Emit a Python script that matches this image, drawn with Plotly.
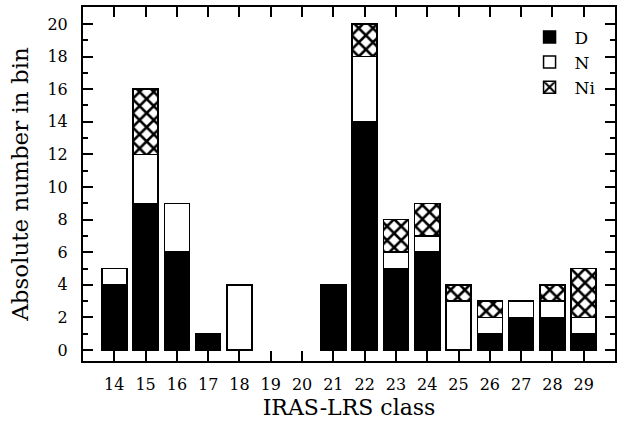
import plotly.graph_objects as go

classes = [14, 15, 16, 17, 18, 19, 20, 21, 22, 23, 24, 25, 26, 27, 28, 29]
d_counts = [4, 9, 6, 1, 0, 0, 0, 4, 14, 5, 6, 0, 1, 2, 2, 1]
n_counts = [1, 3, 3, 0, 4, 0, 0, 0, 4, 1, 1, 3, 1, 1, 1, 1]
ni_counts = [0, 4, 0, 0, 0, 0, 0, 0, 2, 2, 2, 1, 1, 0, 1, 3]
y_ticks = [0, 2, 4, 6, 8, 10, 12, 14, 16, 18, 20]

FONT = "DejaVu Serif"

def nz(vals):
    return [v if v else None for v in vals]

fig = go.Figure()
fig.add_trace(go.Bar(x=classes, y=nz(d_counts), name="D",
                     marker=dict(color="black", line=dict(color="black", width=1.5))))
fig.add_trace(go.Bar(x=classes, y=nz(n_counts), name="N",
                     marker=dict(color="white", line=dict(color="black", width=1.5))))
fig.add_trace(go.Bar(x=classes, y=nz(ni_counts), name="Ni",
                     marker=dict(color="white", line=dict(color="black", width=1.5),
                                 pattern=dict(shape="x", size=10, solidity=0.45,
                                              fgcolor="black", bgcolor="white",
                                              fgopacity=1, fillmode="replace"))))

fig.update_layout(
    barmode="stack",
    bargap=0.2,
    width=621, height=428,
    margin=dict(l=83, r=6, t=7, b=67),
    paper_bgcolor="white", plot_bgcolor="white",
    font=dict(family=FONT, color="black", size=14),
    showlegend=True,
    legend=dict(x=0.83, y=0.965, xanchor="left", yanchor="top", traceorder="normal",
                bgcolor="rgba(0,0,0,0)", font=dict(size=17, family=FONT),
                tracegroupgap=0, itemwidth=40),
    xaxis=dict(range=[13, 30], tickvals=classes, ticktext=[str(c) for c in classes],
               showline=True, linewidth=2, linecolor="black", mirror="ticks",
               ticks="inside", ticklen=10, tickwidth=1.5, tickcolor="black",
               showgrid=False, zeroline=False, ticklabelstandoff=8, automargin=False,
               tickfont=dict(size=16, family=FONT),
               title=dict(text="IRAS-LRS class", font=dict(size=22, family=FONT), standoff=6)),
    yaxis=dict(range=[-0.67, 21.04], tickvals=y_ticks,
               showline=True, linewidth=2, linecolor="black", mirror="ticks",
               ticks="inside", ticklen=10, tickwidth=1.5, tickcolor="black",
               minor=dict(dtick=1, ticks="inside", ticklen=5, tickwidth=1.5, tickcolor="black"),
               showgrid=False, zeroline=False, ticklabelstandoff=10, automargin=False,
               tickfont=dict(size=16, family=FONT),
               title=dict(text="Absolute number in bin", font=dict(size=23, family=FONT), standoff=12)),
)

fig.write_html("out.html", config={"displayModeBar": False},
               post_script="document.body.style.margin='0';")
